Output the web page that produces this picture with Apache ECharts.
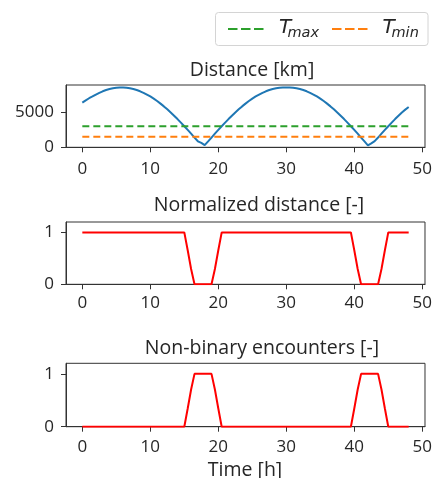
<!DOCTYPE html>
<html>
<head>
<meta charset="utf-8">
<script src="https://cdn.jsdelivr.net/npm/echarts@6/dist/echarts.min.js"></script>
<style>
  html, body { margin: 0; padding: 0; background: #fff; }
  #chart { width: 435px; height: 478px; }
</style>
</head>
<body>
<div id="chart"></div>
<script>
// Sampling times [h], every half hour over two days
const hours = [
  0, 0.5, 1, 1.5, 2, 2.5, 3, 3.5, 4, 4.5,
  5, 5.5, 6, 6.5, 7, 7.5, 8, 8.5, 9, 9.5,
  10, 10.5, 11, 11.5, 12, 12.5, 13, 13.5, 14, 14.5,
  15, 15.5, 16, 16.5, 17, 17.5, 18, 18.5, 19, 19.5,
  20, 20.5, 21, 21.5, 22, 22.5, 23, 23.5, 24, 24.5,
  25, 25.5, 26, 26.5, 27, 27.5, 28, 28.5, 29, 29.5,
  30, 30.5, 31, 31.5, 32, 32.5, 33, 33.5, 34, 34.5,
  35, 35.5, 36, 36.5, 37, 37.5, 38, 38.5, 39, 39.5,
  40, 40.5, 41, 41.5, 42, 42.5, 43, 43.5, 44, 44.5,
  45, 45.5, 46, 46.5, 47, 47.5, 48
];

// Separation distance [km]
const distanceKm = [
  6380, 6700, 7010, 7263, 7540, 7787, 8000, 8181, 8325, 8436,
  8509, 8546, 8546, 8509, 8436, 8325, 8181, 8000, 7787, 7540,
  7263, 6952, 6609, 6241, 5844, 5424, 4980, 4515, 4031, 3529,
  3012, 2482, 1942, 1393, 860, 620, 300, 838, 1393, 1942,
  2482, 3012, 3529, 4031, 4515, 4980, 5424, 5844, 6241, 6609,
  6952, 7263, 7540, 7787, 8000, 8181, 8325, 8436, 8509, 8540,
  8555, 8540, 8509, 8436, 8325, 8181, 8000, 7787, 7540, 7263,
  6952, 6609, 6241, 5844, 5424, 4980, 4515, 4031, 3529, 3012,
  2482, 1942, 1393, 838, 280, 560, 880, 1393, 1942, 2482,
  3012, 3529, 4031, 4515, 4980, 5380, 5750
];

// Normalized distance [-]
const normalizedDistance = [
  1, 1, 1, 1, 1, 1, 1, 1, 1, 1,
  1, 1, 1, 1, 1, 1, 1, 1, 1, 1,
  1, 1, 1, 1, 1, 1, 1, 1, 1, 1,
  1, 0.655, 0.295, 0, 0, 0, 0, 0, 0, 0.295,
  0.655, 1, 1, 1, 1, 1, 1, 1, 1, 1,
  1, 1, 1, 1, 1, 1, 1, 1, 1, 1,
  1, 1, 1, 1, 1, 1, 1, 1, 1, 1,
  1, 1, 1, 1, 1, 1, 1, 1, 1, 1,
  0.655, 0.295, 0, 0, 0, 0, 0, 0, 0.295, 0.655,
  1, 1, 1, 1, 1, 1, 1
];

// Non-binary encounter level [-]
const encounters = [
  0, 0, 0, 0, 0, 0, 0, 0, 0, 0,
  0, 0, 0, 0, 0, 0, 0, 0, 0, 0,
  0, 0, 0, 0, 0, 0, 0, 0, 0, 0,
  0, 0.345, 0.705, 1, 1, 1, 1, 1, 1, 0.705,
  0.345, 0, 0, 0, 0, 0, 0, 0, 0, 0,
  0, 0, 0, 0, 0, 0, 0, 0, 0, 0,
  0, 0, 0, 0, 0, 0, 0, 0, 0, 0,
  0, 0, 0, 0, 0, 0, 0, 0, 0, 0,
  0.345, 0.705, 1, 1, 1, 1, 1, 1, 0.705, 0.345,
  0, 0, 0, 0, 0, 0, 0
];

// Distance thresholds [km]
const tMaxKm = 3000;
const tMinKm = 1500;

// Tick labels
const timeTicks = [0, 10, 20, 30, 40, 50];
const distanceTicks = [0, 5000];
const unitTicks = [0, 1];

const panelTitles = ['Distance [km]', 'Normalized distance [-]', 'Non-binary encounters [-]'];
const timeLabel = 'Time [h]';

const FONT = '"Open Sans", sans-serif';
const INK = '#262626';
const FRAME = '#333333';

const panels = [
  { top: 85,  height: 62.3, yMax: 8900, yTicks: distanceTicks, titleX: 252, titleY: 70,  xMargin: 13 },
  { top: 222, height: 62.3, yMax: 1.2,  yTicks: unitTicks,     titleX: 259, titleY: 205, xMargin: 10 },
  { top: 363.3, height: 63.4, yMax: 1.2, yTicks: unitTicks,    titleX: 262, titleY: 348, xMargin: 12 }
];

const pairs = (vals) => hours.map((h, i) => [h, vals[i]]);
const flat = (v) => hours.map((h) => [h, v]);

const grid = panels.map((p) => ({
  left: 66, width: 361.5, top: p.top, height: p.height,
  show: true, borderColor: FRAME, borderWidth: 1, backgroundColor: 'transparent'
}));

const xAxis = panels.map((p, i) => ({
  type: 'value', gridIndex: i, min: -2.4, max: 50.4,
  axisLine: { show: true, onZero: false, lineStyle: { color: FRAME, width: 1 } },
  axisTick: { show: true, customValues: timeTicks, length: 5, lineStyle: { color: FRAME, width: 1 } },
  axisLabel: { customValues: timeTicks, margin: p.xMargin, fontSize: 17, color: INK, fontFamily: FONT,
               formatter: (v) => String(v) },
  splitLine: { show: false }
}));

const yAxis = panels.map((p, i) => ({
  type: 'value', gridIndex: i, min: 0, max: p.yMax,
  axisLine: { show: true, onZero: false, lineStyle: { color: FRAME, width: 1 } },
  axisTick: { show: true, customValues: p.yTicks, length: 5, lineStyle: { color: FRAME, width: 1 } },
  axisLabel: { customValues: p.yTicks, margin: 12, fontSize: 17, color: INK, fontFamily: FONT,
               formatter: (v) => String(v) },
  splitLine: { show: false }
}));

const lineBase = { type: 'line', showSymbol: false, symbol: 'none', silent: true };

const series = [
  Object.assign({}, lineBase, {
    name: 'Distance', xAxisIndex: 0, yAxisIndex: 0, data: pairs(distanceKm),
    lineStyle: { color: '#1f77b4', width: 2 }, itemStyle: { color: '#1f77b4' }
  }),
  Object.assign({}, lineBase, {
    name: 'Tmax', xAxisIndex: 0, yAxisIndex: 0, data: flat(tMaxKm),
    lineStyle: { color: '#2ca02c', width: 2, type: [7, 4] }, itemStyle: { color: '#2ca02c' }
  }),
  Object.assign({}, lineBase, {
    name: 'Tmin', xAxisIndex: 0, yAxisIndex: 0, data: flat(tMinKm),
    lineStyle: { color: '#ff7f0e', width: 2, type: [7, 4] }, itemStyle: { color: '#ff7f0e' }
  }),
  Object.assign({}, lineBase, {
    name: 'Normalized', xAxisIndex: 1, yAxisIndex: 1, data: pairs(normalizedDistance),
    lineStyle: { color: '#ff0000', width: 2 }, itemStyle: { color: '#ff0000' }
  }),
  Object.assign({}, lineBase, {
    name: 'Encounters', xAxisIndex: 2, yAxisIndex: 2, data: pairs(encounters),
    lineStyle: { color: '#ff0000', width: 2 }, itemStyle: { color: '#ff0000' }
  })
];

const titleFont = 19.5;
const graphic = [];
panels.forEach((p, i) => {
  graphic.push({
    type: 'text', x: p.titleX, y: p.titleY, silent: true,
    style: { text: panelTitles[i], fontSize: titleFont, fontFamily: FONT, fill: INK,
             align: 'center', verticalAlign: 'middle' }
  });
});
graphic.push({
  type: 'text', x: 245, y: 470, silent: true,
  style: { text: timeLabel, fontSize: titleFont, fontFamily: FONT, fill: INK,
           align: 'center', verticalAlign: 'middle' }
});

// Threshold legend box
const MATH = '"DejaVu Sans", sans-serif';
graphic.push(
  { type: 'rect', silent: true, shape: { x: 215.5, y: 12.5, width: 212.5, height: 33, r: 3 },
    style: { fill: '#ffffff', stroke: '#d4d4d4', lineWidth: 1 } },
  { type: 'line', silent: true, shape: { x1: 228, y1: 29, x2: 264, y2: 29 },
    style: { stroke: '#2ca02c', lineWidth: 2, lineDash: [9.5, 3.5] } },
  { type: 'text', silent: true, x: 279, y: 28,
    style: { text: 'T', fontSize: 20, fontStyle: 'italic', fontFamily: MATH, fill: INK, align: 'left', verticalAlign: 'middle' } },
  { type: 'text', silent: true, x: 287.5, y: 33.5,
    style: { text: 'max', fontSize: 14.5, fontStyle: 'italic', fontFamily: MATH, fill: INK, align: 'left', verticalAlign: 'middle' } },
  { type: 'line', silent: true, shape: { x1: 332, y1: 29, x2: 368, y2: 29 },
    style: { stroke: '#ff7f0e', lineWidth: 2, lineDash: [9.5, 3.5] } },
  { type: 'text', silent: true, x: 382.5, y: 28,
    style: { text: 'T', fontSize: 20, fontStyle: 'italic', fontFamily: MATH, fill: INK, align: 'left', verticalAlign: 'middle' } },
  { type: 'text', silent: true, x: 391.5, y: 33.5,
    style: { text: 'min', fontSize: 14.5, fontStyle: 'italic', fontFamily: MATH, fill: INK, align: 'left', verticalAlign: 'middle' } }
);

const chart = echarts.init(document.getElementById('chart'), null, { renderer: 'canvas' });
chart.setOption({
  animation: false,
  backgroundColor: '#ffffff',
  grid, xAxis, yAxis, series, graphic
});
</script>
</body>
</html>
